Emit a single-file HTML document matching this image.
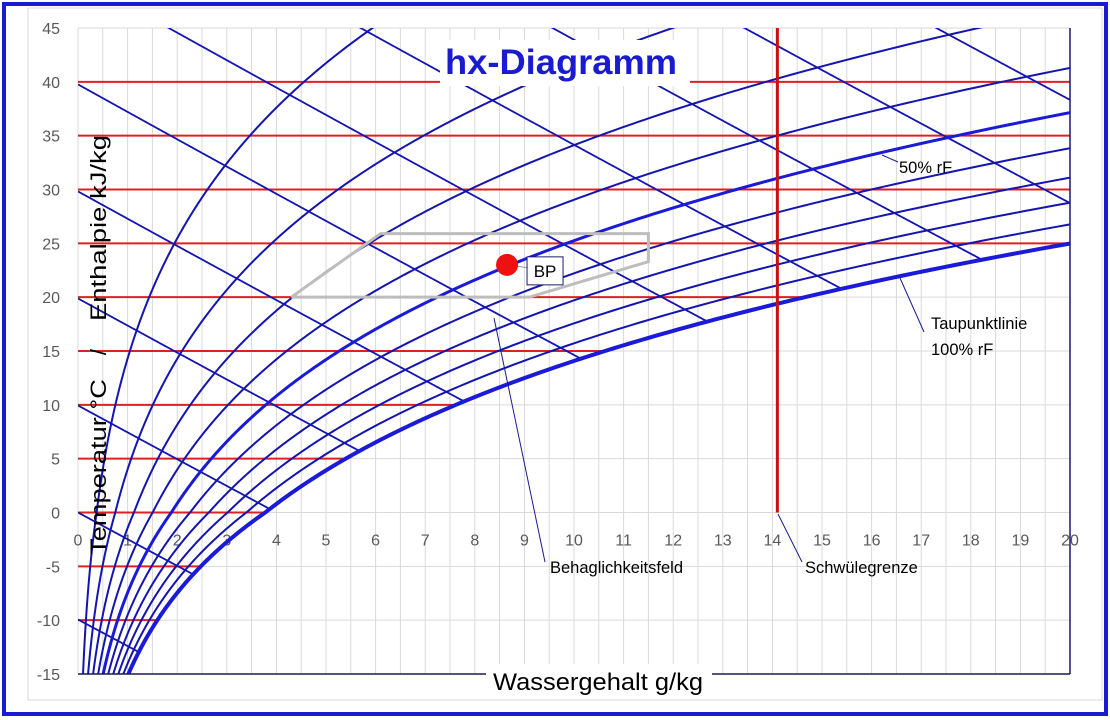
<!DOCTYPE html>
<html><head><meta charset="utf-8"><style>
html,body{margin:0;padding:0;background:#fff;}
svg{display:block;font-family:"Liberation Sans",sans-serif;}
</style></head><body>
<svg id="chart" width="1110" height="720" viewBox="0 0 1110 720">
<rect x="4" y="4" width="1102" height="710" fill="#fff" stroke="#1a1ad0" stroke-width="4"/>
<rect x="28" y="8" width="1074" height="692" fill="none" stroke="#d9d9d9" stroke-width="1"/>
<g id="grid"></g>
<g id="ticks"></g>
<defs><clipPath id="pc"><rect x="78" y="28" width="992" height="646"/></clipPath></defs>
<g id="marks" clip-path="url(#pc)"></g>
<g id="overlay"></g>
<rect x="440" y="40" width="250" height="46" fill="#fff"/>
<text x="561" y="74" text-anchor="middle" font-size="35" font-weight="bold" fill="#1a1ad0" textLength="232" lengthAdjust="spacingAndGlyphs">hx-Diagramm</text>
<g>
<text transform="translate(106,228) rotate(-90)" text-anchor="middle" font-size="22" fill="#000" textLength="186" lengthAdjust="spacingAndGlyphs">Enthalpie kJ/kg</text>
<text transform="translate(106,352) rotate(-90)" text-anchor="middle" font-size="22" fill="#000">/</text>
<text transform="translate(106,467) rotate(-90)" text-anchor="middle" font-size="22" fill="#000" textLength="176" lengthAdjust="spacingAndGlyphs">Temperatur °C</text>
</g>
<rect x="486" y="664" width="226" height="34" fill="#fff"/>
<text x="598" y="690" text-anchor="middle" font-size="24" fill="#000" textLength="210" lengthAdjust="spacingAndGlyphs">Wassergehalt g/kg</text>
</svg>
<script>
const xTicks=[0,1,2,3,4,5,6,7,8,9,10,11,12,13,14,15,16,17,18,19,20];
const yTicks=[45,40,35,30,25,20,15,10,5,0,-5,-10,-15];
const rhLevels=[10,20,30,40,50,60,70,80,90,100];
const enthalpyLevels=[-10,0,10,20,30,40,50,60,70,80,90,100,110,120,130,140];
const tempLines=[-10,-5,0,5,10,15,20,25,30,35,40];
const comfortX=[4.3,6.1,11.5,11.5,9.1,4.3];
const comfortT=[20,25.9,25.9,23.3,20,20];
const bpPoint=[8.65,23];
const schwuelX=[14.1];

const NS="http://www.w3.org/2000/svg";
const X=v=>78+v*49.6, Y=t=>28+(45-t)*(646/60);
function mk(tag,at,par){const e=document.createElementNS(NS,tag);for(const k in at)e.setAttribute(k,at[k]);par.appendChild(e);return e;}
function ps(T){return T>=0?611.2*Math.exp(17.62*T/(243.12+T)):611.2*Math.exp(22.46*T/(272.62+T));}
function xs(T,phi){const p=phi*ps(T);return 622*p/(101325-p);}
const grid=document.getElementById('grid'),ticks=document.getElementById('ticks'),marks=document.getElementById('marks'),ov=document.getElementById('overlay');
for(let v=0;v<=20;v+=0.5){const l=mk('line',{x1:X(v),x2:X(v),y1:Y(45),y2:Y(-15),stroke:'#d9d9d9','stroke-width':1},grid);
}
yTicks.forEach(t=>{const l=mk('line',{x1:X(0),x2:X(20),y1:Y(t),y2:Y(t),stroke:'#d9d9d9','stroke-width':1},grid);

const tx=mk('text',{x:60,y:Y(t)+6,'text-anchor':'end','font-size':16,fill:'#595959'},ticks);tx.textContent=t;
});
xTicks.forEach(v=>{const tx=mk('text',{x:X(v),y:Y(0)+33,'text-anchor':'middle','font-size':16,fill:'#595959'},ticks);tx.textContent=v;
});
tempLines.forEach(t=>{const xe=Math.min(20,xs(t,1));const l=mk('line',{x1:X(0),x2:X(xe),y1:Y(t),y2:Y(t),stroke:'#e02020','stroke-width':2},marks);
});
enthalpyLevels.forEach(h=>{let pts=[];for(let x=0;x<=20.001;x+=0.02){const T=(h-2.501*x)/(1.006+0.00186*x);pts.push([x,T]);if(x>=xs(T,1))break;}
const l=mk('polyline',{points:pts.map(p=>X(p[0])+','+Y(p[1])).join(' '),fill:'none',stroke:'#1414b0','stroke-width':1.8},marks);
});
rhLevels.forEach(r=>{let pts=[];for(let T=-15;T<=46;T+=0.25){pts.push([xs(T,r/100),T]);if(xs(T,r/100)>21)break;}
const w=r==100?4:(r==50?3:2);
const l=mk('polyline',{points:pts.map(p=>X(p[0])+','+Y(p[1])).join(' '),fill:'none',stroke:r==100||r==50?'#1a1ad8':'#1414b0','stroke-width':w},marks);
});
schwuelX.forEach(v=>{const l=mk('line',{x1:X(v),x2:X(v),y1:Y(45),y2:Y(0),stroke:'#c81010','stroke-width':3},marks);
});
{const l=mk('polyline',{points:comfortX.map((v,i)=>X(v)+','+Y(comfortT[i])).join(' '),fill:'none',stroke:'#bdbdbd','stroke-width':3},marks);
}
{const a=mk('line',{x1:X(20),x2:X(20),y1:Y(45),y2:Y(-15),stroke:'#1a1a70','stroke-width':1.5},ov);
const b=mk('line',{x1:X(0),x2:X(20),y1:Y(-15),y2:Y(-15),stroke:'#1a1a50','stroke-width':1.5},ov);}
{const l=mk('line',{x1:X(bpPoint[0]),y1:Y(bpPoint[1]),x2:X(bpPoint[0])+22,y2:Y(bpPoint[1])+3,stroke:'#999','stroke-width':1},ov);
const c=mk('circle',{cx:X(bpPoint[0]),cy:Y(bpPoint[1]),r:11,fill:'#ee1111'},ov);
const r=mk('rect',{x:X(bpPoint[0])+20,y:Y(bpPoint[1])-8,width:36,height:28,fill:'#fff',stroke:'#1a1a70','stroke-width':1},ov);
const t=mk('text',{x:X(bpPoint[0])+38,y:Y(bpPoint[1])+12,'text-anchor':'middle','font-size':17,fill:'#000'},ov);t.textContent='BP';}
function ann(x1,y1,x2,y2,lines,tx,ty,name){const l=mk('line',{x1,y1,x2,y2,stroke:'#1a1a90','stroke-width':1},ov);
lines.forEach((s,i)=>{const t=mk('text',{x:tx,y:ty+i*26,'font-size':16.5,fill:'#000'},ov);t.textContent=s;});}
ann(882,155,898,162,['50% rF'],899,173,'rh50');
ann(900,278,924,332,['Taupunktlinie','100% rF'],931,329,'taupunkt');
ann(494,318,545,562,['Behaglichkeitsfeld'],550,573,'behaglichkeitsfeld');
ann(778,514,802,562,['Schwülegrenze'],805,573,'schwuelegrenze');
</script>
</body></html>
